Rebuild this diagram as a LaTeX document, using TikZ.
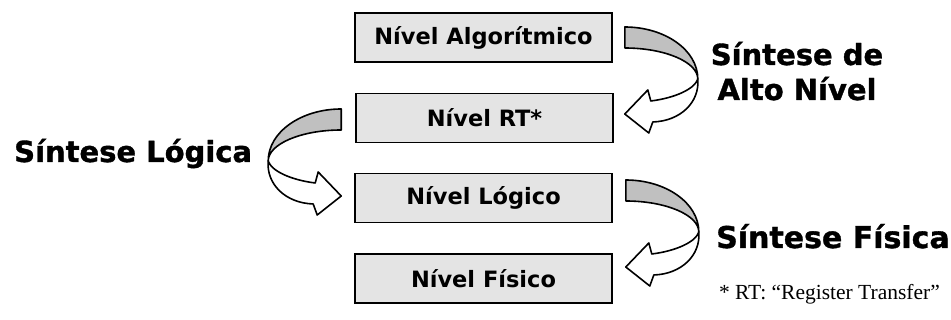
\documentclass[tikz,border=0pt]{standalone}
\usepackage{fontspec}
\setmainfont{DejaVu Sans}
\newfontfamily\heavyfont{DejaVu Sans Bold}[FakeBold=1.2]
\newfontfamily\footfont{Liberation Serif}
\usetikzlibrary{calc}
\definecolor{boxgray}{HTML}{E4E4E4}
\definecolor{arrowgray}{HTML}{C0C0C0}
\tikzset{
  level/.style={draw=black, line width=1.6pt, fill=boxgray, minimum width=257pt,
    minimum height=49pt, inner sep=0pt, font=\fontsize{22.5}{26}\selectfont\bfseries},
  synth/.style={font=\heavyfont\fontsize{29}{35}\selectfont, inner sep=0pt},
  footnote/.style={font=\footfont\fontsize{21.5}{25}\selectfont, inner sep=0pt},
  ribbon/.style={draw=black, line width=1.6pt, line join=round},
  pics/curvearrow/.style={code={
    \path[ribbon, fill=white] (73,52) .. controls (75,75) and (56,94) .. (28,95)
      -- (24,106) -- (0,87) -- (23,63) -- (26,74)
      .. controls (50,71) and (70,62) .. (73,52) -- cycle;
    \path[ribbon, fill=arrowgray] (0,0) .. controls (40,0) and (73,23) .. (73,52)
      .. controls (73,35) and (40,21) .. (0,21) -- cycle;
  }}
}
\begin{document}
\begin{tikzpicture}[x=1pt,y=-1pt]
\useasboundingbox (0,0) rectangle (951,320);
\node[level] (b1) at (483.5,37.5) {Nível Algorítmico};
\node[level] (b2) at (484.5,118) {Nível RT*};
\node[level] (b3) at (483.5,198) {Nível Lógico};
\node[level] (b4) at (483.5,278.5) {Nível Físico};
\pic at ($(b1.east)+(12,-10.5)$) {curvearrow};
\pic[xscale=-1] at ($(b2.west)+(-14,-9)$) {curvearrow};
\pic at ($(b3.east)+(13,-18)$) {curvearrow};
\node[synth, align=center, anchor=base] (alto) at (797,100) {Síntese de\\Alto Nível};
\node[synth, anchor=base west] (logica) at (14,162) {Síntese Lógica};
\node[synth, anchor=base west, font=\heavyfont\fontsize{30}{35}\selectfont] (fisica) at (716,248) {Síntese Física};
\node[footnote, anchor=base east] (fn) at (940,300) {* RT: “Register Transfer”};
\end{tikzpicture}
\end{document}
